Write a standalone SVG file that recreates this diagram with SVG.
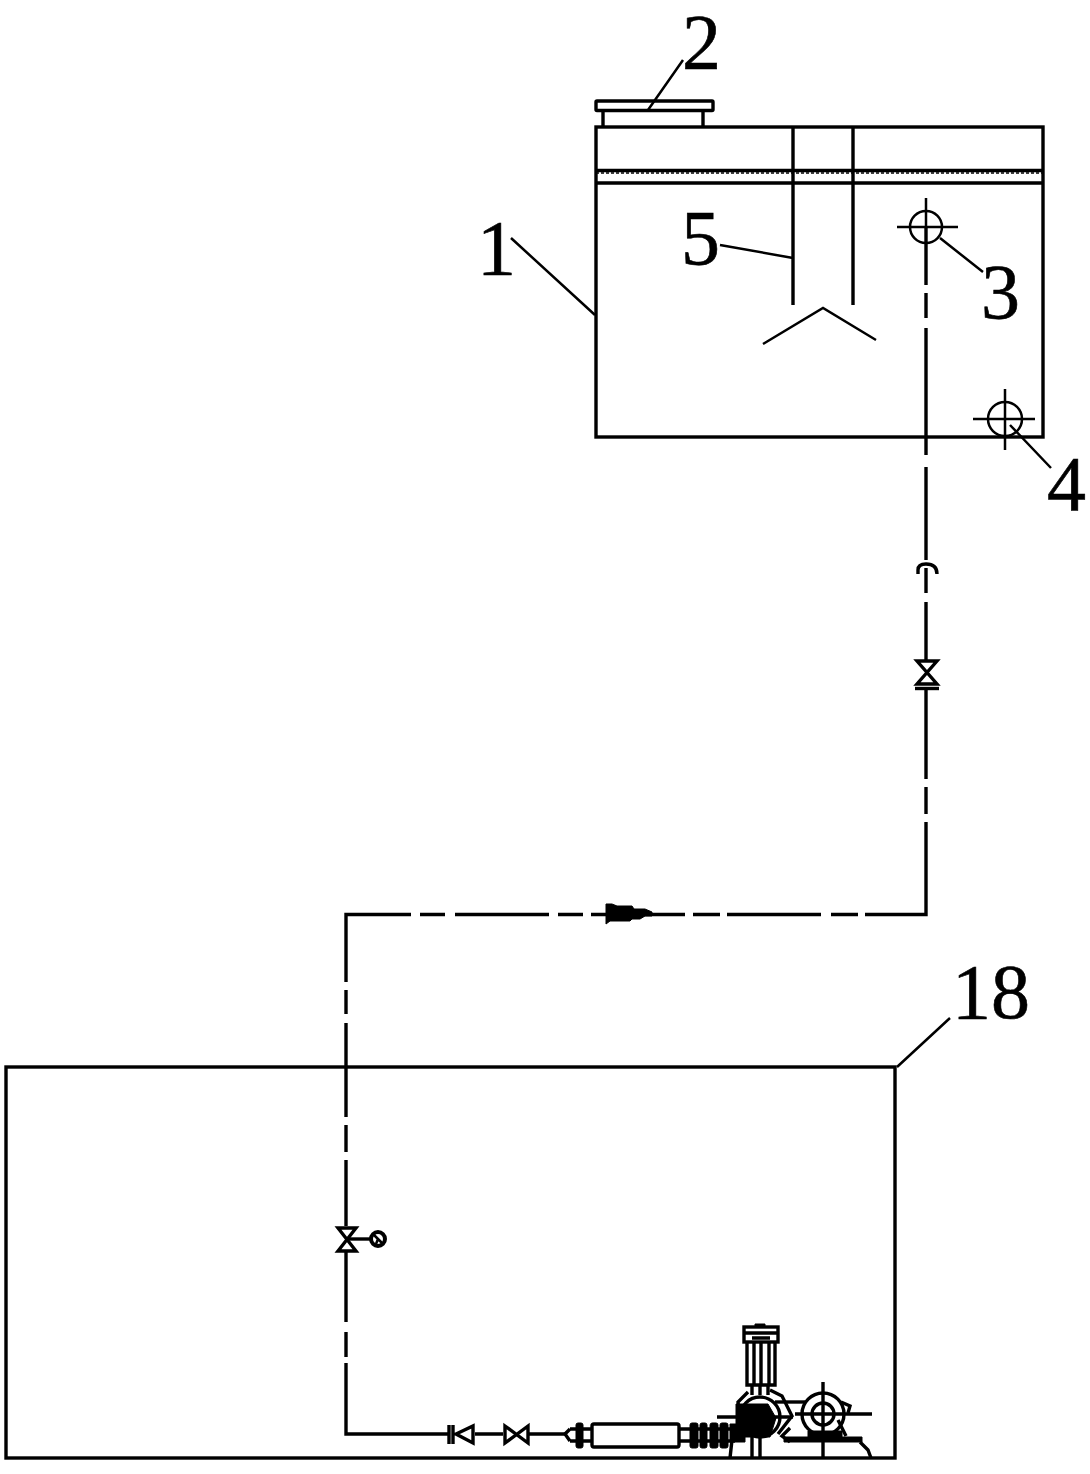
<svg xmlns="http://www.w3.org/2000/svg" width="1090" height="1474" viewBox="0 0 1090 1474">
<style>
.l{fill:none;stroke:#000;stroke-width:3.400}
.t{fill:none;stroke:#000;stroke-width:2.500}
.f{fill:#000;stroke:#000;stroke-width:1}
.n{font-family:"Liberation Serif",serif;font-size:78px;fill:#000;stroke:#000;stroke-width:.6}
</style>
<rect width="1090" height="1474" fill="#fff"/>
<g id="connectors">
<path class="l" d="M926 228V285M926 293V318M926 328V455M926 467V560M926 568V593M926 602V660M926 690V779M926 787V814M926 822V914.500H865M858 914.500H831M821 914.500H727M720 914.500H693M685 914.500H591M583 914.500H558M549 914.500H455M445 914.500H420M411 914.500H346V982M346 990V1014M346 1023V1117M346 1125V1152M346 1160V1226M346 1252V1322M346 1332V1357M346 1363V1434H448M475 1434H503M529 1434H566"/>
<path class="t" d="M511 238L595 315M720 245L793 258M940 238L983 272M1010 425L1051 468M648 110L683 60M897 1067L950 1018"/>
</g>
<g id="tank-1">
<rect class="l" x="596" y="127" width="447" height="310"/>
<path class="l" d="M596 183H1043M793 127V305M853 127V305"/>
<path d="M596 170.500H1043" fill="none" stroke="#000" stroke-width="3.500"/>
<path d="M596 173H1043" fill="none" stroke="#000" stroke-width="1.500" stroke-dasharray="3 2"/>
<path class="t" d="M763 344L823 308L876 340"/>
</g>
<g id="lid-2">
<rect class="l" x="596" y="101" width="117" height="9.500" rx="1"/>
<path class="l" d="M603 110V127M703 110V127"/>
</g>
<g id="instrument-3">
<circle cx="926" cy="227" r="16" class="t"/>
<path class="t" d="M897 227H958M926 198V228"/>
</g>
<g id="instrument-4">
<circle cx="1005" cy="419" r="17" class="t"/>
<path class="t" d="M973 419H1035M1005 389V450"/>
</g>
<g id="fitting-top">
<path class="l" d="M918 574V570Q918 564 926 564Q937 564 937 574"/>
</g>
<g id="valve-top">
<path class="l" d="M917 661H937L917 684H937Z"/>
<path class="l" d="M915 688.500H939"/>
</g>
<g id="check-marker">
<path class="f" d="M606 904H612L617 906H632L634 909H645L652 912V916H645L640 919H632L630 921H610L606 924Z"/>
</g>
<g id="tank-18">
<rect class="l" x="6" y="1067" width="889" height="391"/>
</g>
<g id="valve-left">
<path class="l" d="M338 1228H356L338 1251H356Z"/>
<path class="l" d="M347 1239H370"/>
<circle cx="378" cy="1239" r="7" fill="none" stroke="#000" stroke-width="4"/>
<path class="t" d="M374 1235L382 1243M378 1239L376 1244"/>
</g>
<g id="check-valve">
<path class="l" d="M449 1425V1444M453 1425V1444M473 1426V1443L456 1434Z"/>
</g>
<g id="gate-valve">
<path class="l" d="M505 1426L528 1443V1426L505 1443Z"/>
</g>
<g id="filter">
<path class="l" d="M570 1429H592M570 1441H592M570 1429L565 1434L570 1441"/>
<rect class="f" x="576" y="1423" width="7" height="25" rx="2"/>
<rect class="l" x="592" y="1424" width="87" height="23" rx="2"/>
<path class="l" d="M679 1429H693M679 1441H693"/>
</g>
<g id="pump-unit">
<rect class="f" x="690" y="1423" width="8" height="25" rx="2"/>
<rect class="f" x="700" y="1423" width="7" height="25" rx="2"/>
<rect class="f" x="710" y="1423" width="8" height="25" rx="2"/>
<rect class="f" x="720" y="1423" width="8" height="25" rx="2"/>
<path class="l" d="M696 1429H735M696 1441H735"/>
<path class="f" d="M755 1324H765V1327H755Z"/>
<rect class="l" x="744" y="1327" width="34" height="15"/>
<path class="l" d="M744 1333H778M752 1338H770"/>
<path class="l" d="M747 1342V1385H775V1342M754 1342V1385M761 1342V1385M769 1342V1385"/>
<path class="l" d="M752 1385V1395M760 1385V1395M768 1385V1395"/>
<path class="l" d="M748 1392L738 1402L740 1418L732 1440L730 1458M770 1390L782 1396L792 1416L778 1434"/>
<circle cx="760" cy="1417" r="20" fill="none" stroke="#000" stroke-width="3.400"/>
<path class="f" d="M736 1404H768L776 1418L770 1437H736Z"/>
<path class="l" d="M717 1417H793"/>
<path class="f" d="M730 1424H745V1442H730Z"/>
<path class="l" d="M752 1428V1458M760 1428V1458"/>
<path class="l" d="M775 1402H805"/>
<circle cx="823" cy="1414" r="21" class="l"/>
<circle cx="823" cy="1414" r="11" class="l"/>
<path class="l" d="M795 1414H872M823 1382V1458"/>
<path class="l" d="M841 1402L850 1406L848 1413M838 1420L846 1436M790 1428L782 1436L790 1442"/>
<path class="f" d="M784 1437H862V1442H784Z"/>
<path class="f" d="M808 1431H842V1437H808Z"/>
<path class="l" d="M860 1442L868 1450L871 1458"/>
</g>
<g id="labels">
<text class="n" x="682" y="68">2</text>
<text class="n" x="477" y="274">1</text>
<text class="n" x="681" y="264">5</text>
<text class="n" x="981" y="318">3</text>
<text class="n" x="1047" y="510">4</text>
<text class="n" x="952" y="1018">18</text>
</g>
</svg>
